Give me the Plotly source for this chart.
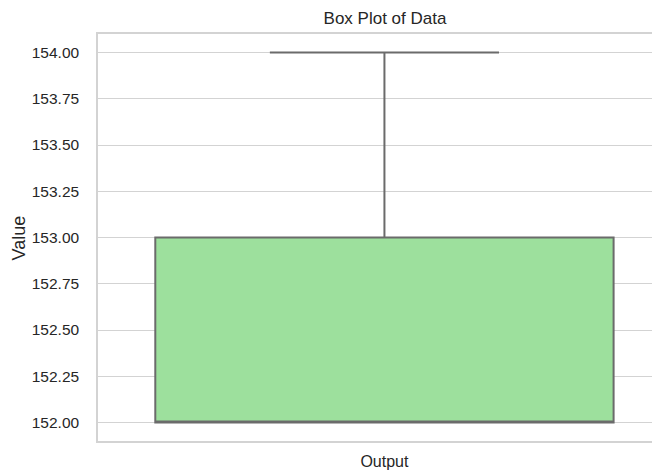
import plotly.graph_objects as go

# values
category = "Output"
values = [152, 152, 152, 153, 154]

FILL = "rgb(157,224,157)"
EDGE = "#6b6b6b"
GRID = "#d3d3d3"
TEXT = "#262626"

# the page adds an 8px body margin, so the figure is a bit smaller than the window
W, H = 652, 462
L, T, B = 90, 26, 29

fig = go.Figure()
fig.add_trace(go.Box(
    x=[category] * len(values),
    y=values,
    quartilemethod="inclusive",
    width=0.8,
    whiskerwidth=0.5,
    fillcolor=FILL,
    line=dict(color=EDGE, width=2),
    boxpoints=False,
    hoverinfo="y",
    showlegend=False,
))

fig.update_layout(
    width=W,
    height=H,
    margin=dict(l=L, r=0, t=T, b=B, autoexpand=False),
    paper_bgcolor="white",
    plot_bgcolor="white",
    font=dict(family="Liberation Sans, Arial, sans-serif", size=15, color=TEXT),
    title=dict(
        text="Box Plot of Data",
        x=377 / W, xanchor="center",
        y=1 - 10 / H, yanchor="middle",
        font=dict(size=17, color=TEXT),
    ),
    annotations=[dict(
        text="Value", textangle=-90,
        xref="paper", yref="paper",
        x=(10 - L) / (W - L), y=0.5, xanchor="center", yanchor="middle",
        showarrow=False, font=dict(size=18, color=TEXT),
    )],
)

fig.update_xaxes(
    range=[-0.5, 0.481],
    automargin=False,
    showgrid=False,
    showline=True, linecolor=GRID, linewidth=1.5,
    mirror=True,
    ticks="outside", ticklen=0,
    ticklabelstandoff=5,
    tickfont=dict(size=16, color=TEXT),
    zeroline=False,
)
fig.update_yaxes(
    range=[151.9, 154.1],
    automargin=False,
    tickvals=[152, 152.25, 152.5, 152.75, 153, 153.25, 153.5, 153.75, 154],
    tickformat=".2f",
    showgrid=True, gridcolor=GRID, gridwidth=1.2,
    showline=True, linecolor=GRID, linewidth=1.5,
    ticks="outside", ticklen=0,
    ticklabelstandoff=14,
    tickfont=dict(size=15.5, color=TEXT),
    zeroline=False,
)

fig.write_html("out.html")
